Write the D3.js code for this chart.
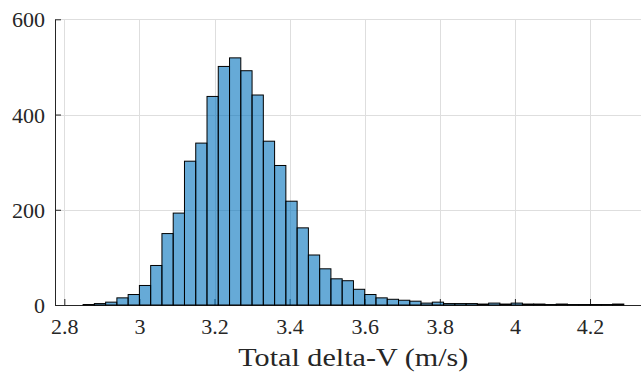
<!DOCTYPE html>
<html>
<head>
<meta charset="utf-8">
<script src="https://cdn.jsdelivr.net/npm/d3@7"></script>
<style>
  html, body { margin: 0; padding: 0; background: #ffffff; }
  svg { display: block; }
</style>
</head>
<body>
<script>
// ---- data ----
const binEdges = [2.85, 2.88, 2.91, 2.94, 2.97, 3.00, 3.03, 3.06, 3.09, 3.12,
                  3.15, 3.18, 3.21, 3.24, 3.27, 3.30, 3.33, 3.36, 3.39, 3.42,
                  3.45, 3.48, 3.51, 3.54, 3.57, 3.60, 3.63, 3.66, 3.69, 3.72,
                  3.75, 3.78, 3.81, 3.84, 3.87, 3.90, 3.93, 3.96, 3.99, 4.02,
                  4.05, 4.08, 4.11, 4.14, 4.17, 4.20, 4.23, 4.26, 4.29];
const counts = [1, 3, 6, 15, 22, 41, 83, 150, 193, 302,
                340, 438, 501, 519, 492, 441, 344, 293, 218, 162,
                105, 76, 55, 51, 33, 22, 15, 12, 10, 8,
                4, 6, 3, 3, 3, 2, 4, 2, 4, 2,
                2, 1, 2, 1, 1, 1, 1, 2];
const xTicks = [2.8, 3.0, 3.2, 3.4, 3.6, 3.8, 4.0, 4.2];
const xTickLabels = ["2.8", "3", "3.2", "3.4", "3.6", "3.8", "4", "4.2"];
const yTicks = [0, 200, 400, 600];
const yTickLabels = ["0", "200", "400", "600"];
const xLabel = "Total delta-V (m/s)";
const xDomain = [2.7752, 4.3624];
const yDomain = [0, 600];

// ---- layout ----
(function () {
const W = 641, H = 376;
const mLeft = 55, mRight = 651, mTop = 19.3, mBottom = 305;
const axisColor = "#262626", gridColor = "#dedede";
const font = "'Liberation Serif', 'Times New Roman', serif";

const x = d3.scaleLinear().domain(xDomain).range([mLeft, mRight]);
const y = d3.scaleLinear().domain(yDomain).range([mBottom, mTop]);

const svg = d3.select("body").append("svg")
  .attr("width", W).attr("height", H);

// grid
const grid = svg.append("g");
grid.selectAll("line.gx").data(xTicks).enter().append("line")
  .attr("x1", d => Math.round(x(d)) + 0.5).attr("x2", d => Math.round(x(d)) + 0.5)
  .attr("y1", mTop).attr("y2", mBottom)
  .attr("stroke", gridColor).attr("stroke-width", 1);
grid.selectAll("line.gy").data(yTicks.filter(d => d > 0)).enter().append("line")
  .attr("x1", mLeft).attr("x2", mRight)
  .attr("y1", d => Math.round(y(d)) + 0.5).attr("y2", d => Math.round(y(d)) + 0.5)
  .attr("stroke", gridColor).attr("stroke-width", 1);

// axes (drawn below bars)
const xAxis = d3.axisBottom(x).tickValues(xTicks)
  .tickFormat((d, i) => xTickLabels[i]).tickSizeInner(-6).tickSizeOuter(0).tickPadding(13);
const gx = svg.append("g").attr("transform", `translate(0,${mBottom})`).call(xAxis);
const yAxis = d3.axisLeft(y).tickValues(yTicks)
  .tickFormat((d, i) => yTickLabels[i]).tickSizeInner(-6).tickSizeOuter(0).tickPadding(10);
const gy = svg.append("g").attr("transform", `translate(${mLeft},0)`).call(yAxis);

[gx, gy].forEach(g => {
  g.attr("font-family", font);
  g.select(".domain").attr("stroke", axisColor).attr("stroke-width", 1);
  g.selectAll(".tick line").attr("stroke", axisColor).attr("stroke-width", 1);
  g.selectAll(".tick text").attr("fill", axisColor)
    .style("font-family", font).style("font-size", "22px");
});
gy.selectAll(".tick text").attr("dy", "0.34em");

// bars
const bins = counts.map((c, i) => ({ x0: binEdges[i], x1: binEdges[i + 1], c }));
svg.append("g").selectAll("rect").data(bins).enter().append("rect")
  .attr("x", d => x(d.x0))
  .attr("width", d => x(d.x1) - x(d.x0))
  .attr("y", d => y(d.c))
  .attr("height", d => y(0) - y(d.c))
  .attr("fill", "#0072BD").attr("fill-opacity", 0.6)
  .attr("stroke", "#000000").attr("stroke-width", 1);

// x label
svg.append("text")
  .attr("x", 353.3).attr("y", 365.5)
  .attr("text-anchor", "middle")
  .attr("fill", axisColor)
  .attr("textLength", 230).attr("lengthAdjust", "spacingAndGlyphs")
  .style("font-family", font).style("font-size", "25px")
  .text(xLabel);
})();
</script>
</body>
</html>
